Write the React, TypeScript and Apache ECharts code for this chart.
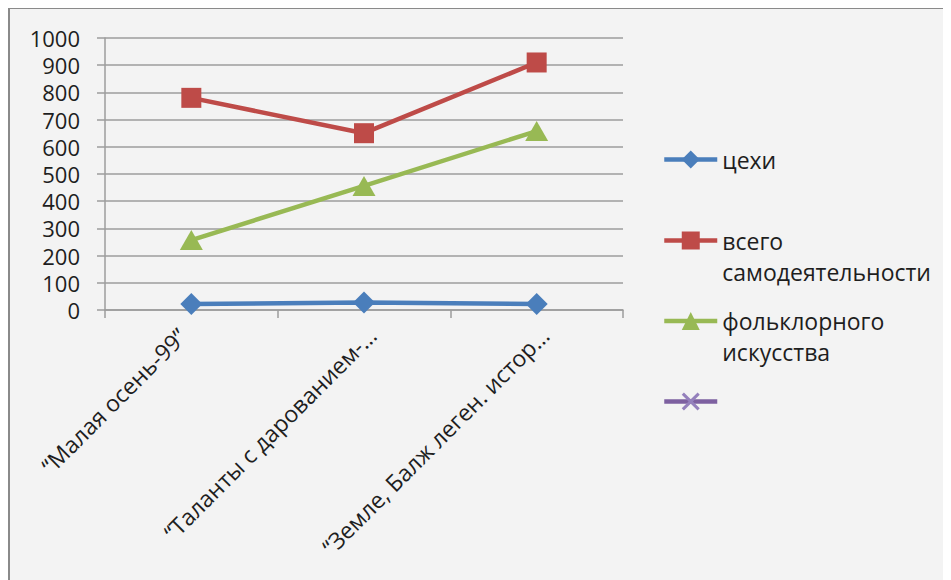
import React, { useEffect, useRef } from "react";
import * as echarts from "echarts";

const categories = [
  "“Малая осень-99”",
  "“Таланты с дарованием-…",
  "“Земле, Балж леген. истор…",
];
const yTicks = { min: 0, max: 1000, interval: 100 };
const seriesNames = ["цехи", "всего самодеятельности", "фольклорного искусства", " "];
const tsekhi = [22, 28, 22];
const vsegoSamodeyatelnosti = [780, 650, 910];
const folklornogoIskusstva = [257, 456, 658];
const emptySeries: (number | null)[] = [null, null, null];

const FONT = "Open Sans";
const TEXT = "#1e1e1e";
const GRID = "#9c9c9c";
const FS = 23;

const xMark =
  "path://M0,1.2 L1.2,0 L5,3.8 L8.8,0 L10,1.2 L6.2,5 L10,8.8 L8.8,10 L5,6.2 L1.2,10 L0,8.8 L3.8,5 Z";

export default function App() {
  const ref = useRef<HTMLDivElement>(null);
  useEffect(() => {
    if (!ref.current) return;
    const chart = echarts.init(ref.current, undefined, { renderer: "svg" });
    const legendBase = {
      orient: "vertical",
      left: 652,
      padding: 0,
      itemWidth: 53,
      itemHeight: 22.5,
      selectedMode: false,
      lineStyle: { width: 4.5 },
    };
    const lineText = { fontFamily: FONT, fontSize: FS, color: TEXT, lineHeight: 31 };
    const twoLine = (n: string) => "\n" + n.replace(" ", "\n");
    chart.setOption({
      animation: false,
      backgroundColor: "transparent",
      grid: { left: 95, top: 29, width: 518, height: 272, containLabel: false },
      legend: [
        { ...legendBase, top: 135, data: [seriesNames[0]], textStyle: { ...lineText } },
        {
          ...legendBase,
          top: 185,
          data: [seriesNames[1]],
          formatter: twoLine,
          textStyle: { ...lineText },
        },
        {
          ...legendBase,
          top: 265.5,
          data: [seriesNames[2]],
          formatter: twoLine,
          textStyle: { ...lineText },
        },
        { ...legendBase, top: 377, data: [seriesNames[3]], textStyle: { ...lineText } },
      ],
      xAxis: {
        type: "category",
        data: categories.map((c, i) =>
          i === 0 ? { value: c, textStyle: { padding: [0, 13, 0, 0] } } : c
        ),
        boundaryGap: true,
        axisLine: { show: true, lineStyle: { color: GRID, width: 1.5 } },
        axisTick: { show: true, length: 8, alignWithLabel: false, lineStyle: { color: GRID, width: 1.5 } },
        axisLabel: {
          rotate: 45,
          margin: 13,
          verticalAlign: "top",
          align: "right",
          fontFamily: FONT,
          fontSize: FS,
          color: TEXT,
          interval: 0,
        },
        splitLine: { show: false },
      },
      yAxis: {
        type: "value",
        min: yTicks.min,
        max: yTicks.max,
        interval: yTicks.interval,
        axisLine: { show: true, lineStyle: { color: GRID, width: 1.5 } },
        axisTick: { show: true, length: 8, lineStyle: { color: GRID, width: 1.5 } },
        axisLabel: {
          margin: 25,
          fontFamily: FONT,
          fontSize: 22,
          lineHeight: 22,
          color: TEXT,
          formatter: (v: number) => String(v),
        },
        splitLine: { show: true, lineStyle: { color: GRID, width: 1.5 } },
      },
      series: [
        {
          name: seriesNames[0],
          type: "line",
          data: tsekhi,
          symbol: "diamond",
          symbolSize: 22,
          lineStyle: { color: "#4a7ebb", width: 4.5 },
          itemStyle: { color: "#4a7ebb" },
        },
        {
          name: seriesNames[1],
          type: "line",
          data: vsegoSamodeyatelnosti,
          symbol: "rect",
          symbolSize: 20,
          lineStyle: { color: "#be4b48", width: 4.5 },
          itemStyle: { color: "#be4b48" },
        },
        {
          name: seriesNames[2],
          type: "line",
          data: folklornogoIskusstva,
          symbol: "triangle",
          symbolSize: [23, 20],
          lineStyle: { color: "#98b954", width: 4.5 },
          itemStyle: { color: "#98b954" },
        },
        {
          name: seriesNames[3],
          type: "line",
          data: emptySeries,
          symbol: xMark,
          symbolSize: 18,
          lineStyle: { color: "#7d60a0", width: 4.5 },
          itemStyle: { color: "#9480bc" },
        },
      ],
    });
    return () => chart.dispose();
  }, []);
  return (
    <div
      style={{
        position: "relative",
        top: -1,
        width: 943,
        height: 573,
        boxSizing: "border-box",
        borderTop: "2px solid #8a8a8a",
        borderLeft: "2px solid #8a8a8a",
        background: "#f3f3f3",
        overflow: "hidden",
      }}
    >
      <div ref={ref} style={{ width: 941, height: 571 }} />
    </div>
  );
}
